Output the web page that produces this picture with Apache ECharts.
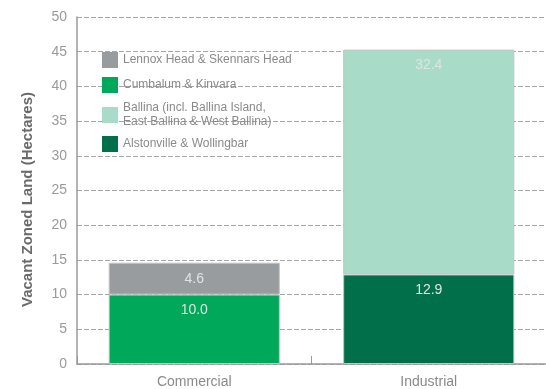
<!DOCTYPE html>
<html><head><meta charset="utf-8">
<script src="https://cdn.jsdelivr.net/npm/echarts@6/dist/echarts.min.js"></script>
<style>html,body{margin:0;padding:0;background:#fff}#c{width:546px;height:389px}</style>
</head><body><div id="c"></div>
<script>
const categories = ['Commercial', 'Industrial'];
const seriesNames = ['Alstonville & Wollingbar', 'Cumbalum & Kinvara', 'Ballina (incl. Ballina Island,\nEast Ballina & West Ballina)', 'Lennox Head & Skennars Head'];
const alstonville = [null, 12.9];
const cumbalum = [10.0, null];
const ballina = [null, 32.4];
const lennox = [4.6, null];
const yTicks = [0, 5, 10, 15, 20, 25, 30, 35, 40, 45, 50];

const colors = ['#006f4a', '#00a85a', '#a8dcc8', '#989c9f'];
const values = [alstonville, cumbalum, ballina, lennox];
const font = 'Liberation Sans';

const series = seriesNames.map((n, i) => ({
  name: n, type: 'bar', stack: 'a', barWidth: '73%',
  data: values[i],
  itemStyle: { color: colors[i], borderColor: '#c4c4c4', borderWidth: 1 },
  label: { show: true, position: 'insideTop', distance: 9, color: '#e2e2e2', fontFamily: font, fontSize: 14,
    formatter: p => p.value == null ? '' : Number(p.value).toFixed(1) }
}));

const legendOrder = [3, 1, 2, 0];
const legendTops = [52, 77, 101, 136];
const legends = legendOrder.map((si, k) => ({
  data: [seriesNames[si]], left: 102, top: legendTops[k], orient: 'vertical',
  itemWidth: 16, itemHeight: 16, itemGap: 0, icon: 'rect', selectedMode: false,
  itemStyle: { borderWidth: 0 },
  textStyle: { color: '#8a8a8a', fontFamily: font, fontSize: 12, lineHeight: 14 },
  padding: 0
}));

const chart = echarts.init(document.getElementById('c'));
chart.setOption({
  animation: false,
  grid: { left: 77, right: -5, top: 17, bottom: 25, containLabel: false },
  legend: legends,
  xAxis: {
    type: 'category', data: categories,
    axisLine: { lineStyle: { color: '#9a9a9a', width: 1.5 } },
    axisTick: { show: true, inside: true, length: 8, lineStyle: { color: '#9a9a9a' } },
    axisLabel: { color: '#8a8a8a', fontFamily: font, fontSize: 14, margin: 11 }
  },
  yAxis: {
    type: 'value', min: 0, max: 50, interval: 5,
    name: 'Vacant Zoned Land (Hectares)', nameLocation: 'middle', nameGap: 42,
    nameTextStyle: { color: '#6a6a6a', fontFamily: font, fontSize: 15, fontWeight: 'bold', padding: [0, 18, 0, 0] },
    axisLine: { show: true, lineStyle: { color: '#9a9a9a', width: 1.5 } },
    axisTick: { show: false },
    axisLabel: { color: '#9a9a9a', fontFamily: font, fontSize: 14, margin: 10,
      formatter: v => yTicks.includes(v) ? String(v) : '' },
    splitLine: { show: true, lineStyle: { color: '#a6a6a6', type: [5, 2], width: 1 } }
  },
  series: series
});
</script></body></html>
